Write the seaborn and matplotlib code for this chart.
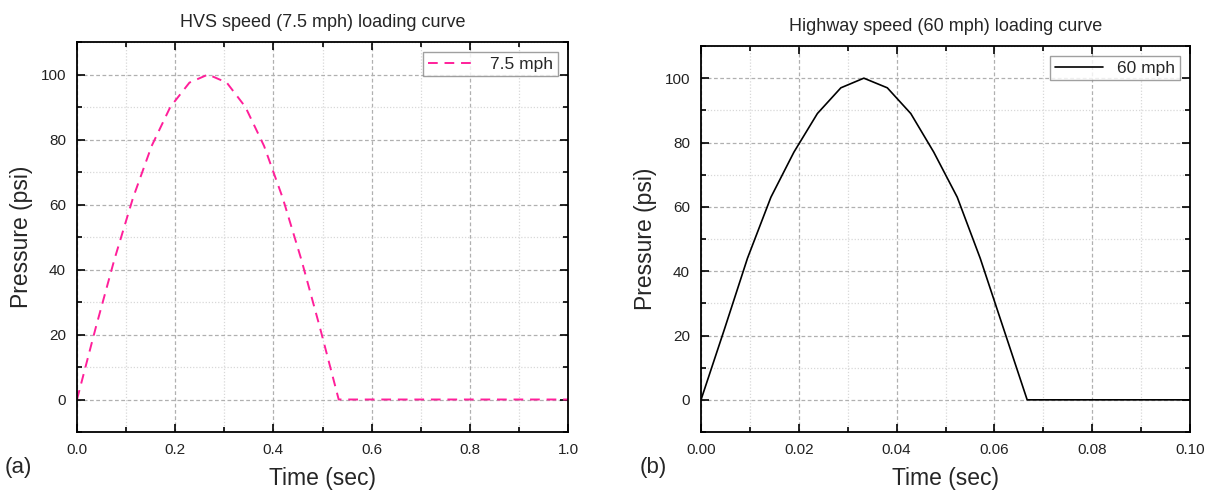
import numpy as np
import pandas as pd
import matplotlib
matplotlib.use("Agg")
import matplotlib.pyplot as plt
from matplotlib.ticker import MultipleLocator
import seaborn as sns

# ---- data ----
hvs_time = [0.0, 0.038, 0.076, 0.114, 0.152, 0.190, 0.229, 0.267, 0.305, 0.343,
            0.381, 0.419, 0.457, 0.495, 0.533, 1.0]
hvs_pressure = [0, 22, 43, 62, 78, 90, 97.5, 100, 97.5, 90, 78, 62, 43, 22, 0, 0]

hwy_time = [0.0, 0.0048, 0.0095, 0.0143, 0.0190, 0.0238, 0.0286, 0.0333, 0.0381,
            0.0429, 0.0476, 0.0524, 0.0571, 0.0619, 0.0667, 0.10]
hwy_pressure = [0, 22, 44, 63, 77, 89, 97, 100, 97, 89, 77, 63, 44, 22, 0, 0]

titles = ["HVS speed (7.5 mph) loading curve", "Highway speed (60 mph) loading curve"]
labels = ["7.5 mph", "60 mph"]
panel_tags = ["(a)", "(b)"]

sns.set_theme(style="ticks")
plt.rcParams["font.family"] = ["Liberation Sans", "DejaVu Sans"]

W, H = 1209, 496
fig = plt.figure(figsize=(W / 100, H / 100), dpi=100)

def rect(l, r, t, b):
    return [l / W, 1 - b / H, (r - l) / W, (b - t) / H]

ax1 = fig.add_axes(rect(77, 568, 42, 432))
ax2 = fig.add_axes(rect(701, 1190, 46, 432))

df1 = pd.DataFrame({"t": hvs_time, "p": hvs_pressure})
df2 = pd.DataFrame({"t": hwy_time, "p": hwy_pressure})

sns.lineplot(data=df1, x="t", y="p", ax=ax1, color="#ff1f9a", lw=1.4,
             label=labels[0], sort=False)
ax1.lines[0].set_dashes([5, 3.5])
sns.lineplot(data=df2, x="t", y="p", ax=ax2, color="black", lw=1.2,
             label=labels[1], sort=False)

for ax, xmax, xmaj, xmin, fmt, title, tag in [
    (ax1, 1.0, 0.2, 0.1, "{:.1f}", titles[0], panel_tags[0]),
    (ax2, 0.10, 0.02, 0.01, "{:.2f}", titles[1], panel_tags[1]),
]:
    ax.set_xlim(0, xmax)
    ax.set_ylim(-10, 110)
    ax.xaxis.set_major_locator(MultipleLocator(xmaj))
    ax.xaxis.set_minor_locator(MultipleLocator(xmin))
    ax.yaxis.set_major_locator(MultipleLocator(20))
    ax.yaxis.set_minor_locator(MultipleLocator(10))
    ax.set_xticklabels([fmt.format(v) for v in ax.get_xticks()])
    ax.tick_params(which="both", direction="in", top=True, right=True,
                   colors="black", labelcolor="#222222", labelsize=11, width=1.2)
    ax.tick_params(which="major", length=6, pad=8)
    ax.tick_params(which="minor", length=3.5)
    ax.grid(which="major", color="#b0b0b0", linestyle=(0, (3, 2)), lw=0.9)
    ax.grid(which="minor", color="#d8d8d8", linestyle=(0, (1, 1.5)), lw=0.9)
    ax.set_axisbelow(True)
    for s in ax.spines.values():
        s.set_color("black")
        s.set_linewidth(1.3)
    ax.set_xlabel("Time (sec)", fontsize=16.5, labelpad=7)
    ax.set_ylabel("Pressure (psi)", fontsize=16.5, labelpad=5)
    ax.set_title(title, fontsize=13, pad=11)
    leg = ax.legend(loc="upper right", fontsize=12.5, frameon=True, fancybox=False,
                    edgecolor="#888888", handlelength=2.8, borderpad=0.25,
                    borderaxespad=0.6)
    leg.get_frame().set_linewidth(1.0)

fig.text(5 / W, 1 - 467 / H, panel_tags[0], fontsize=16, va="center", ha="left")
fig.text(640 / W, 1 - 467 / H, panel_tags[1], fontsize=16, va="center", ha="left")

fig.savefig("out.png", dpi=100)
